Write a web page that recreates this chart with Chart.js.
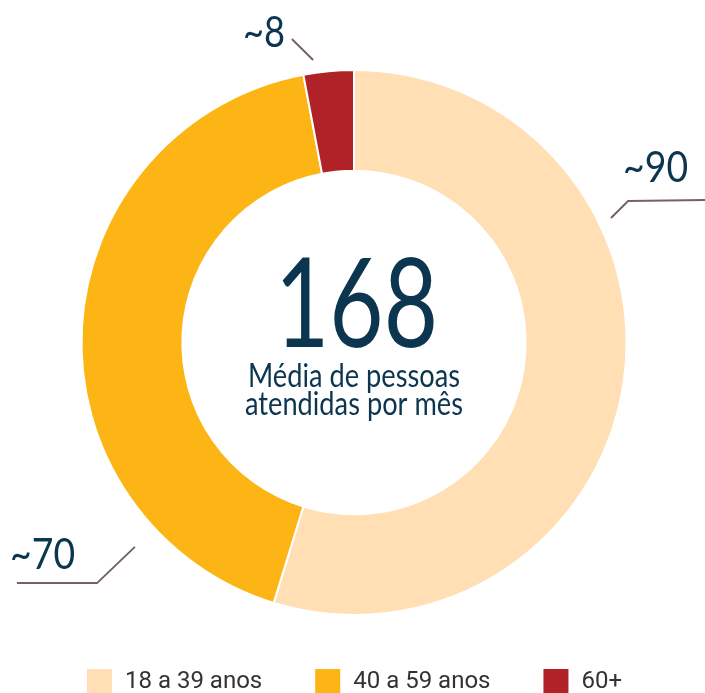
<!DOCTYPE html>
<html lang="pt">
<head>
<meta charset="utf-8">
<title>Média de pessoas atendidas por mês</title>
<script src="https://cdn.jsdelivr.net/npm/chart.js@4"></script>
<style>
    html, body { margin: 0; padding: 0; background: #ffffff; overflow: hidden; }
    #wrap { position: relative; width: 705px; height: 705px; }
</style>
</head>
<body>
<div id="wrap"><canvas id="donut"></canvas></div>
<script>
// faixas etárias e valores
const categories = ['18 a 39 anos', '40 a 59 anos', '60+'];
const values = [92, 71, 5];
const valueLabels = ['~90', '~70', '~8'];
const totalLabel = '168';
const centerLines = ['Média de pessoas', 'atendidas por mês'];

const colors = ['#FFDFB3', '#FDB515', '#AF2328'];
const navy = '#0C3550';
const leaderColor = '#766361';
const face = 'Lato';

// leader lines, in units of the outer radius from the centre
const leaders = [
    { pts: [[0.943, -0.457], [1.006, -0.519], [1.288, -0.523]], text: [1.226, -0.589], align: 'right', width: 65 },
    { pts: [[-0.804, 0.750], [-0.943, 0.883], [-1.237, 0.883]], text: [-1.262, 0.831], align: 'left', width: 65 },
    { pts: [[-0.150, -1.037], [-0.228, -1.114]], text: [-0.253, -1.084], align: 'right', width: 42 },
];

// the original uses a condensed face, so squeeze the text sideways
function condensed(ctx, text, x, y, size, width, align) {
    ctx.font = `${size}px ${face}`;
    ctx.textAlign = align;
    ctx.textBaseline = 'alphabetic';
    const sx = width / ctx.measureText(text).width;
    ctx.save();
    ctx.translate(x, y);
    ctx.scale(sx, 1);
    ctx.fillText(text, 0, 0);
    ctx.restore();
}

const centerText = {
    id: 'centerText',
    afterDraw(chart) {
        const arc = chart.getDatasetMeta(0).data[0];
        if (!arc) return;
        const { x, y } = arc.getProps(['x', 'y'], true);
        const ctx = chart.ctx;
        ctx.save();
        ctx.fillStyle = navy;
        condensed(ctx, totalLabel, x + 2.5, y + 4.5, 125, 163, 'center');
        condensed(ctx, centerLines[0], x, y + 44.5, 32, 212, 'center');
        condensed(ctx, centerLines[1], x, y + 72.5, 32, 218, 'center');
        ctx.restore();
    }
};

const leaderLabels = {
    id: 'leaderLabels',
    afterDraw(chart) {
        const arc = chart.getDatasetMeta(0).data[0];
        if (!arc) return;
        const { x, y, outerRadius } = arc.getProps(['x', 'y', 'outerRadius'], true);
        const r = outerRadius;
        const ctx = chart.ctx;
        ctx.save();
        leaders.forEach((l, i) => {
            ctx.strokeStyle = leaderColor;
            ctx.lineWidth = 2;
            ctx.beginPath();
            l.pts.forEach((p, j) => {
                const px = x + p[0] * r, py = y + p[1] * r;
                if (j === 0) ctx.moveTo(px, py); else ctx.lineTo(px, py);
            });
            ctx.stroke();
            ctx.fillStyle = navy;
            condensed(ctx, valueLabels[i], x + l.text[0] * r, y + l.text[1] * r, 42, l.width, l.align);
        });
        ctx.restore();
    }
};

new Chart(document.getElementById('donut'), {
    type: 'doughnut',
    data: {
        labels: categories,
        datasets: [{
            data: values,
            backgroundColor: colors,
            borderColor: '#ffffff',
            borderWidth: 2,
            hoverOffset: 0,
        }],
    },
    options: {
        responsive: true,
        maintainAspectRatio: false,
        animation: false,
        cutout: '63%',
        layout: {
            padding: { top: 69, left: 3, right: 0, bottom: 0 },
        },
        plugins: {
            legend: {
                position: 'bottom',
                labels: {
                    boxWidth: 27,
                    boxHeight: 27,
                    padding: 52,
                    color: '#333333',
                    font: { family: 'Roboto', size: 24 },
                },
            },
            tooltip: { enabled: false },
        },
    },
    plugins: [centerText, leaderLabels],
});
</script>
</body>
</html>
